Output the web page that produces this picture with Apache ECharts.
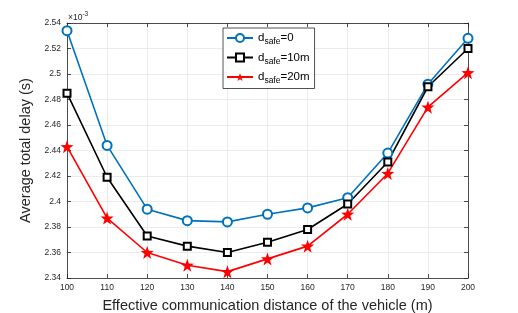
<!DOCTYPE html>
<html><head><meta charset="utf-8">
<script src="https://cdn.jsdelivr.net/npm/echarts@6/dist/echarts.min.js"></script>
<style>html,body{margin:0;padding:0;background:#fff}#c{width:518px;height:313px}</style>
</head><body><div id="c"></div>
<script>
// values in units of 1e-3 s
const categories = [100,110,120,130,140,150,160,170,180,190,200];
const dsafe0  = [2.534,2.444,2.394,2.385,2.384,2.390,2.395,2.403,2.438,2.492,2.528];
const dsafe10 = [2.485,2.419,2.373,2.365,2.360,2.368,2.378,2.398,2.431,2.490,2.520];
const dsafe20 = [2.443,2.387,2.360,2.350,2.345,2.355,2.365,2.390,2.422,2.474,2.501];
const seriesNames = ['d_safe=0','d_safe=10m','d_safe=20m'];
const legendParts = [['d','safe','=0'],['d','safe','=10m'],['d','safe','=20m']];

const star = 'path://M0,-10 L2.35,-3.24 L9.51,-3.09 L3.8,1.24 L5.88,8.09 L0,4 L-5.88,8.09 L-3.8,1.24 L-9.51,-3.09 L-2.35,-3.24 Z';
const font = 'Liberation Sans, Arial, sans-serif';
const chart = echarts.init(document.getElementById('c'));
const grid = {left:67,right:50,top:23,bottom:35,containLabel:false,outerBoundsMode:'none'};
const mk = (v)=>categories.map((x,i)=>[x,v[i]]);
chart.setOption({
  animation:false,
  textStyle:{fontFamily:font},
  grid:grid,
  legend:{
    orient:'vertical', left:223, top:28, padding:[4,5,3,3],
    backgroundColor:'#fff', borderColor:'#262626', borderWidth:0.8, borderRadius:0,
    itemWidth:26, itemHeight:10, itemGap:5,
    data:seriesNames,
    formatter:(n)=>{const p=legendParts[seriesNames.indexOf(n)];return '{a|'+p[0]+'}{b|'+p[1]+'}{a|'+p[2]+'}';},
    textStyle:{rich:{
      a:{fontSize:11.5,fontFamily:font,color:'#000',padding:[0,0,0,0]},
      b:{fontSize:8.5,fontFamily:font,color:'#000',padding:[8,0,0,0]}
    }}
  },
  xAxis:[{
    type:'value',min:100,max:200,interval:10,position:'bottom',
    name:'Effective communication distance of the vehicle (m)',nameLocation:'middle',nameGap:20,
    nameTextStyle:{fontSize:14.5,color:'#262626',fontFamily:font},
    axisLine:{lineStyle:{color:'#262626',width:0.8}},
    axisTick:{inside:true,length:4,lineStyle:{color:'#262626',width:0.8}},
    axisLabel:{fontSize:8.5,color:'#262626',margin:5,fontFamily:font},
    splitLine:{lineStyle:{color:'#e6e6e6',width:0.8}}
  },{
    type:'value',min:100,max:200,interval:10,position:'top',
    axisLine:{show:true,lineStyle:{color:'#262626',width:0.8}},
    axisTick:{show:true,inside:true,length:4,lineStyle:{color:'#262626',width:0.8}},
    axisLabel:{show:false},splitLine:{show:false}
  }],
  yAxis:[{
    type:'value',min:2.34,max:2.54,interval:0.02,position:'left',
    name:'Average total delay (s)',nameLocation:'middle',nameGap:26,nameRotate:90,
    nameTextStyle:{fontSize:14.5,color:'#262626',fontFamily:font},
    axisLine:{show:true,lineStyle:{color:'#262626',width:0.8}},
    axisTick:{show:true,inside:true,length:4,lineStyle:{color:'#262626',width:0.8}},
    axisLabel:{fontSize:8.5,color:'#262626',margin:6,fontFamily:font,
      formatter:(v)=>String(parseFloat(v.toFixed(2)))},
    splitLine:{lineStyle:{color:'#e6e6e6',width:0.8}}
  },{
    type:'value',min:2.34,max:2.54,interval:0.02,position:'right',
    axisLine:{show:true,lineStyle:{color:'#262626',width:0.8}},
    axisTick:{show:true,inside:true,length:4,lineStyle:{color:'#262626',width:0.8}},
    axisLabel:{show:false},splitLine:{show:false}
  }],
  graphic:[{
    type:'text',left:68,top:11,
    style:{text:'{a|×10}{b|-3}',rich:{a:{fontSize:8.5,fill:'#262626',fontFamily:font},b:{fontSize:6.5,fill:'#262626',fontFamily:font,padding:[0,0,6,0]}}}
  }],
  series:[
    {name:seriesNames[0],type:'line',data:mk(dsafe0),color:'#0072BD',
     lineStyle:{width:1.6},symbol:'emptyCircle',symbolSize:9,itemStyle:{borderWidth:1.6}},
    {name:seriesNames[1],type:'line',data:mk(dsafe10),color:'#000000',
     lineStyle:{width:1.6},symbol:'emptyRect',symbolSize:7,itemStyle:{borderWidth:1.5}},
    {name:seriesNames[2],type:'line',data:mk(dsafe20),color:'#FF0000',
     lineStyle:{width:1.6},symbol:star,symbolSize:13,itemStyle:{color:'#FF0000'}}
  ]
});
</script></body></html>
